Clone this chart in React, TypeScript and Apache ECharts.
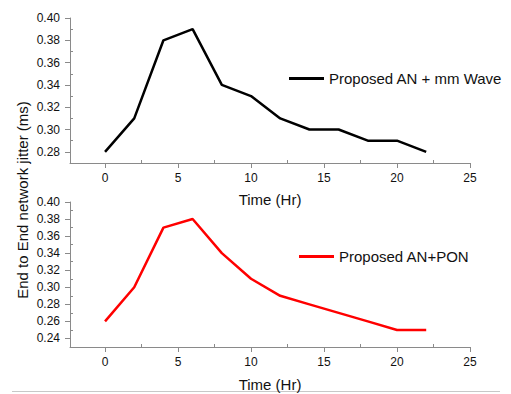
import React, { useEffect, useRef } from "react";
import * as echarts from "echarts";

const timeHr = [0, 2, 4, 6, 8, 10, 12, 14, 16, 18, 20, 22];
const jitterMmWave = [0.28, 0.31, 0.38, 0.39, 0.34, 0.33, 0.31, 0.30, 0.30, 0.29, 0.29, 0.28];
const jitterPon = [0.26, 0.30, 0.37, 0.38, 0.34, 0.31, 0.29, 0.28, 0.27, 0.26, 0.25, 0.25];
const xTicks = [0, 5, 10, 15, 20, 25];
const xMinorTicks = [2.5, 7.5, 12.5, 17.5, 22.5];
const yTicksTop = [0.28, 0.30, 0.32, 0.34, 0.36, 0.38, 0.40];
const yMinorTop = [0.27, 0.29, 0.31, 0.33, 0.35, 0.37, 0.39];
const yTicksBottom = [0.24, 0.26, 0.28, 0.30, 0.32, 0.34, 0.36, 0.38, 0.40];
const yMinorBottom = [0.23, 0.25, 0.27, 0.29, 0.31, 0.33, 0.35, 0.37, 0.39];
const seriesNames = ["Proposed AN + mm Wave", "Proposed AN+PON"];

const FONT = "Liberation Sans, Arial, sans-serif";
const AXIS_COLOR = "#8a8a8a";
const TEXT_COLOR = "#111";

function mainX(gridIndex: number, nameGap: number) {
  return {
    type: "value",
    gridIndex,
    position: "bottom",
    min: -2.4,
    max: 25,
    name: "Time (Hr)",
    nameLocation: "middle",
    nameGap,
    nameTextStyle: { fontFamily: FONT, fontSize: 15, color: TEXT_COLOR },
    axisLine: { show: true, onZero: false, lineStyle: { color: AXIS_COLOR, width: 1 } },
    axisTick: { show: true, customValues: xTicks, length: 5, lineStyle: { color: AXIS_COLOR } },
    axisLabel: {
      customValues: xTicks,
      fontFamily: FONT,
      fontSize: 12,
      color: TEXT_COLOR,
      margin: 9,
    },
    splitLine: { show: false },
  };
}

function minorX(gridIndex: number) {
  return {
    type: "value",
    gridIndex,
    position: "bottom",
    min: -2.4,
    max: 25,
    axisLine: { show: false, onZero: false },
    axisTick: { show: true, inside: true, customValues: xMinorTicks, length: 3, lineStyle: { color: AXIS_COLOR } },
    axisLabel: { show: false },
    splitLine: { show: false },
  };
}

function mainY(gridIndex: number, min: number, ticks: number[]) {
  return {
    type: "value",
    gridIndex,
    position: "left",
    min,
    max: 0.4,
    axisLine: { show: true, onZero: false, lineStyle: { color: AXIS_COLOR, width: 1 } },
    axisTick: { show: true, customValues: ticks, length: 5, lineStyle: { color: AXIS_COLOR } },
    axisLabel: {
      customValues: ticks,
      fontFamily: FONT,
      fontSize: 12,
      color: TEXT_COLOR,
      margin: 10,
      formatter: (v: number) => v.toFixed(2),
    },
    splitLine: { show: false },
  };
}

function minorY(gridIndex: number, min: number, ticks: number[]) {
  return {
    type: "value",
    gridIndex,
    position: "left",
    min,
    max: 0.4,
    axisLine: { show: false, onZero: false },
    axisTick: { show: true, inside: true, customValues: ticks, length: 3, lineStyle: { color: AXIS_COLOR } },
    axisLabel: { show: false },
    splitLine: { show: false },
  };
}

export default function App() {
  const ref = useRef<HTMLDivElement>(null);
  useEffect(() => {
    if (!ref.current) return;
    const chart = echarts.init(ref.current, undefined, { renderer: "svg" });
    chart.setOption({
      animation: false,
      backgroundColor: "#ffffff",
      grid: [
        { left: 70, top: 18, width: 400, height: 145 },
        { left: 70, top: 202, width: 400, height: 145 },
      ],
      xAxis: [mainX(0, 29), minorX(0), mainX(1, 30), minorX(1)],
      yAxis: [
        mainY(0, 0.27, yTicksTop),
        minorY(0, 0.27, yMinorTop),
        mainY(1, 0.23, yTicksBottom),
        minorY(1, 0.23, yMinorBottom),
      ],
      legend: [
        {
          data: [seriesNames[0]],
          left: 289,
          top: 71,
          padding: 0,
          icon: "rect",
          itemWidth: 35,
          itemHeight: 3,
          itemGap: 0,
          textStyle: { fontFamily: FONT, fontSize: 15, color: TEXT_COLOR },
        },
        {
          data: [seriesNames[1]],
          left: 299,
          top: 249,
          padding: 0,
          icon: "rect",
          itemWidth: 35,
          itemHeight: 3,
          itemGap: 0,
          textStyle: { fontFamily: FONT, fontSize: 15, color: TEXT_COLOR },
        },
      ],
      series: [
        {
          name: seriesNames[0],
          type: "line",
          xAxisIndex: 0,
          yAxisIndex: 0,
          data: timeHr.map((t, i) => [t, jitterMmWave[i]]),
          symbol: "none",
          lineStyle: { color: "#000000", width: 2.5 },
          itemStyle: { color: "#000000" },
        },
        {
          name: seriesNames[1],
          type: "line",
          xAxisIndex: 2,
          yAxisIndex: 2,
          data: timeHr.map((t, i) => [t, jitterPon[i]]),
          symbol: "none",
          lineStyle: { color: "#ff0000", width: 2.5 },
          itemStyle: { color: "#ff0000" },
        },
      ],
      graphic: [
        {
          type: "text",
          x: 22,
          y: 200,
          rotation: Math.PI / 2,
          style: {
            text: "End to End network jitter (ms)",
            fontFamily: FONT,
            fontSize: 15,
            fill: TEXT_COLOR,
            align: "center",
            verticalAlign: "middle",
          },
        },
        {
          type: "line",
          shape: { x1: 12, y1: 391.5, x2: 500, y2: 391.5 },
          style: { stroke: "#c8c8c8", lineWidth: 1 },
        },
      ],
    });
    return () => chart.dispose();
  }, []);
  return (
    <div
      ref={ref}
      style={{ position: "fixed", left: 0, top: 0, width: 511, height: 394 }}
    />
  );
}
